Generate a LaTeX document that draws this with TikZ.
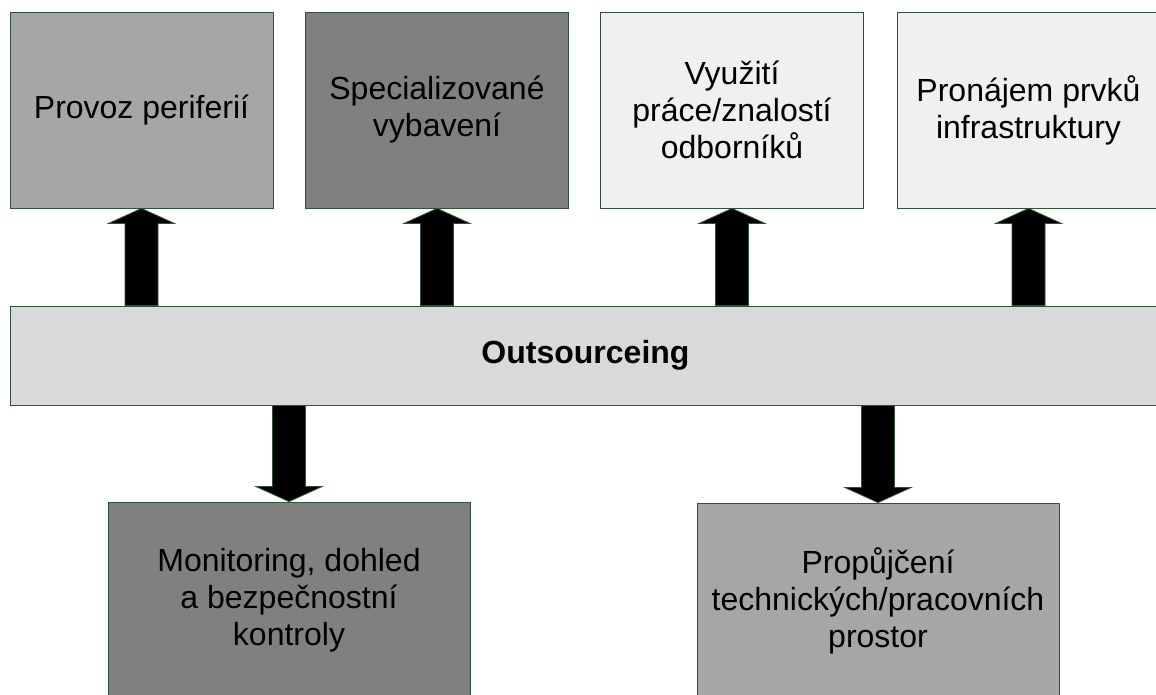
\documentclass[tikz,border=0pt]{standalone}
\usepackage{fontspec}
\setmainfont{Liberation Sans}
\usetikzlibrary{calc}
\definecolor{edge}{HTML}{2D5234}
\definecolor{gMid}{HTML}{A6A6A6}
\definecolor{gDark}{HTML}{808080}
\definecolor{gPale}{HTML}{F0F0F0}
\definecolor{gBar}{HTML}{D9D9D9}

% block arrow pointing up from the bar (#1) to a box (#2)
\newcommand{\blockup}[2]{%
  \path (#2.south) coordinate (tip) (#1.north -| #2.south) coordinate (base);
  \draw[blockarrow] (tip) -- ($(tip)+(33,15)$) -- ($(tip)+(16.5,15)$)
    -- ($(base)+(16.5,0)$) -- ($(base)+(-16.5,0)$) -- ($(tip)+(-16.5,15)$)
    -- ($(tip)+(-33,15)$) -- cycle;}
% block arrow pointing down from the bar (#1) to a box (#2)
\newcommand{\blockdown}[2]{%
  \path (#2.north) coordinate (tip) (#1.south -| #2.north) coordinate (base);
  \draw[blockarrow] (tip) -- ($(tip)+(33,-15)$) -- ($(tip)+(16.5,-15)$)
    -- ($(base)+(16.5,0)$) -- ($(base)+(-16.5,0)$) -- ($(tip)+(-16.5,-15)$)
    -- ($(tip)+(-33,-15)$) -- cycle;}

\begin{document}
\begin{tikzpicture}[x=1pt,y=-1pt,
  box/.style={draw=edge, line width=0.9pt, rectangle, inner sep=0pt,
    align=center, text=black, font=\fontsize{32}{37}\selectfont},
  topbox/.style={box, minimum width=263pt, minimum height=196pt},
  lowbox/.style={box, minimum width=362pt, minimum height=196pt},
  blockarrow/.style={draw=edge, line width=0.8pt, fill=black, line join=miter}]
\useasboundingbox (0,0) rectangle (1156,694);
\clip (0,0) rectangle (1156,694);

% upper row of services
\node[topbox, fill=gMid]  (p1) at (141.5,110) {Provoz periferií};
\node[topbox, fill=gDark] (p2) at (437,110)   {Specializované\\vybavení};
\node[topbox, fill=gPale] (p3) at (732,110)   {Využití\\práce/znalostí\\odborníků};
\node[topbox, fill=gPale] (p4) at (1028.5,110) {Pronájem prvků\\infrastruktury};

% central bar
\node[box, fill=gBar, minimum width=1151pt, minimum height=99pt,
  font=\fontsize{32}{37}\selectfont\bfseries] (out) at (585.5,355.5) {Outsourceing};

% lower row of services
\node[lowbox, fill=gDark] (m) at (289,600) {Monitoring, dohled\\a bezpečnostní\\kontroly};
\node[lowbox, fill=gMid]  (r) at (878,601) {Propůjčení\\technických/pracovních\\prostor};

% connectors
\blockup{out}{p1}
\blockup{out}{p2}
\blockup{out}{p3}
\blockup{out}{p4}
\blockdown{out}{m}
\blockdown{out}{r}
\end{tikzpicture}
\end{document}
